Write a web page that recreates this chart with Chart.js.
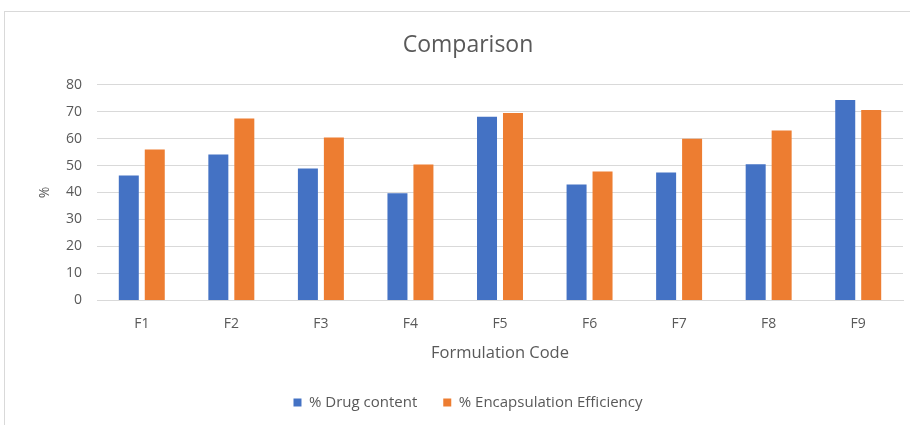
<!DOCTYPE html>
<html lang="en">
<head>
<meta charset="UTF-8" />
<title>Comparison</title>
<script src="https://cdn.jsdelivr.net/npm/chart.js@4.4.1/dist/chart.umd.min.js"></script>
<style>
	body { margin: 0; background: #fff; }
	.frame { position: absolute; left: 4px; top: 11px; width: 920px; height: 430px; border: 1px solid #d9d9d9; }
	.wrap { position: absolute; left: 0; top: 0; width: 910px; height: 425px; }
</style>
</head>
<body>
	<div class="frame"></div>
	<div class="wrap">
		<canvas id="myChart" width="910" height="425"></canvas>
	</div>
<script>
	const codes = ['F1', 'F2', 'F3', 'F4', 'F5', 'F6', 'F7', 'F8', 'F9'];
	const drug_content = [46.3, 54.1, 48.9, 39.7, 68.1, 43.0, 47.4, 50.5, 74.3];
	const encapsulation = [55.9, 67.4, 60.4, 50.4, 69.5, 47.8, 59.9, 63.0, 70.6];
	const y_ticks = [0, 10, 20, 30, 40, 50, 60, 70, 80];

	const grey = '#595959';
	Chart.defaults.font.family = '"Open Sans", sans-serif';
	Chart.defaults.color = grey;

	const ctx = document.getElementById('myChart').getContext('2d');
	const chart = new Chart(ctx, {
		type: 'bar',
		data: {
			labels: codes,
			datasets: [{
				label: '% Drug content',
				data: drug_content,
				backgroundColor: '#4472C4',
				categoryPercentage: 0.58,
				barPercentage: 0.77
			}, {
				label: '% Encapsulation Efficiency',
				data: encapsulation,
				backgroundColor: '#ED7D31',
				categoryPercentage: 0.58,
				barPercentage: 0.77
			}]
		},
		options: {
			responsive: false,
			animation: false,
			layout: { padding: { left: 33, right: 7, top: 0, bottom: 5 } },
			plugins: {
				title: {
					display: true,
					text: 'Comparison',
					font: { size: 23, weight: 'normal' },
					color: grey,
					padding: { top: 32, bottom: 25 }
				},
				legend: {
					position: 'bottom',
					labels: { boxWidth: 8, boxHeight: 8, font: { size: 15 }, padding: 26, color: grey }
				},
				tooltip: { enabled: false }
			},
			scales: {
				x: {
					grid: { display: false },
					border: { color: '#d9d9d9' },
					ticks: { font: { size: 14 }, padding: 7 },
					title: { display: true, text: 'Formulation Code', font: { size: 16.5 }, color: grey, padding: { top: 4, bottom: 6 } }
				},
				y: {
					min: 0,
					max: 80,
					afterBuildTicks: (axis) => { axis.ticks = y_ticks.map(v => ({ value: v })); },
					afterFit: (axis) => { axis.width = 64; },
					grid: { color: '#d9d9d9', drawTicks: false },
					border: { display: false },
					ticks: { font: { size: 14 }, padding: 15 },
					title: { display: true, text: '%', font: { size: 14 }, color: grey }
				}
			}
		}
	});
</script>
</body>
</html>
